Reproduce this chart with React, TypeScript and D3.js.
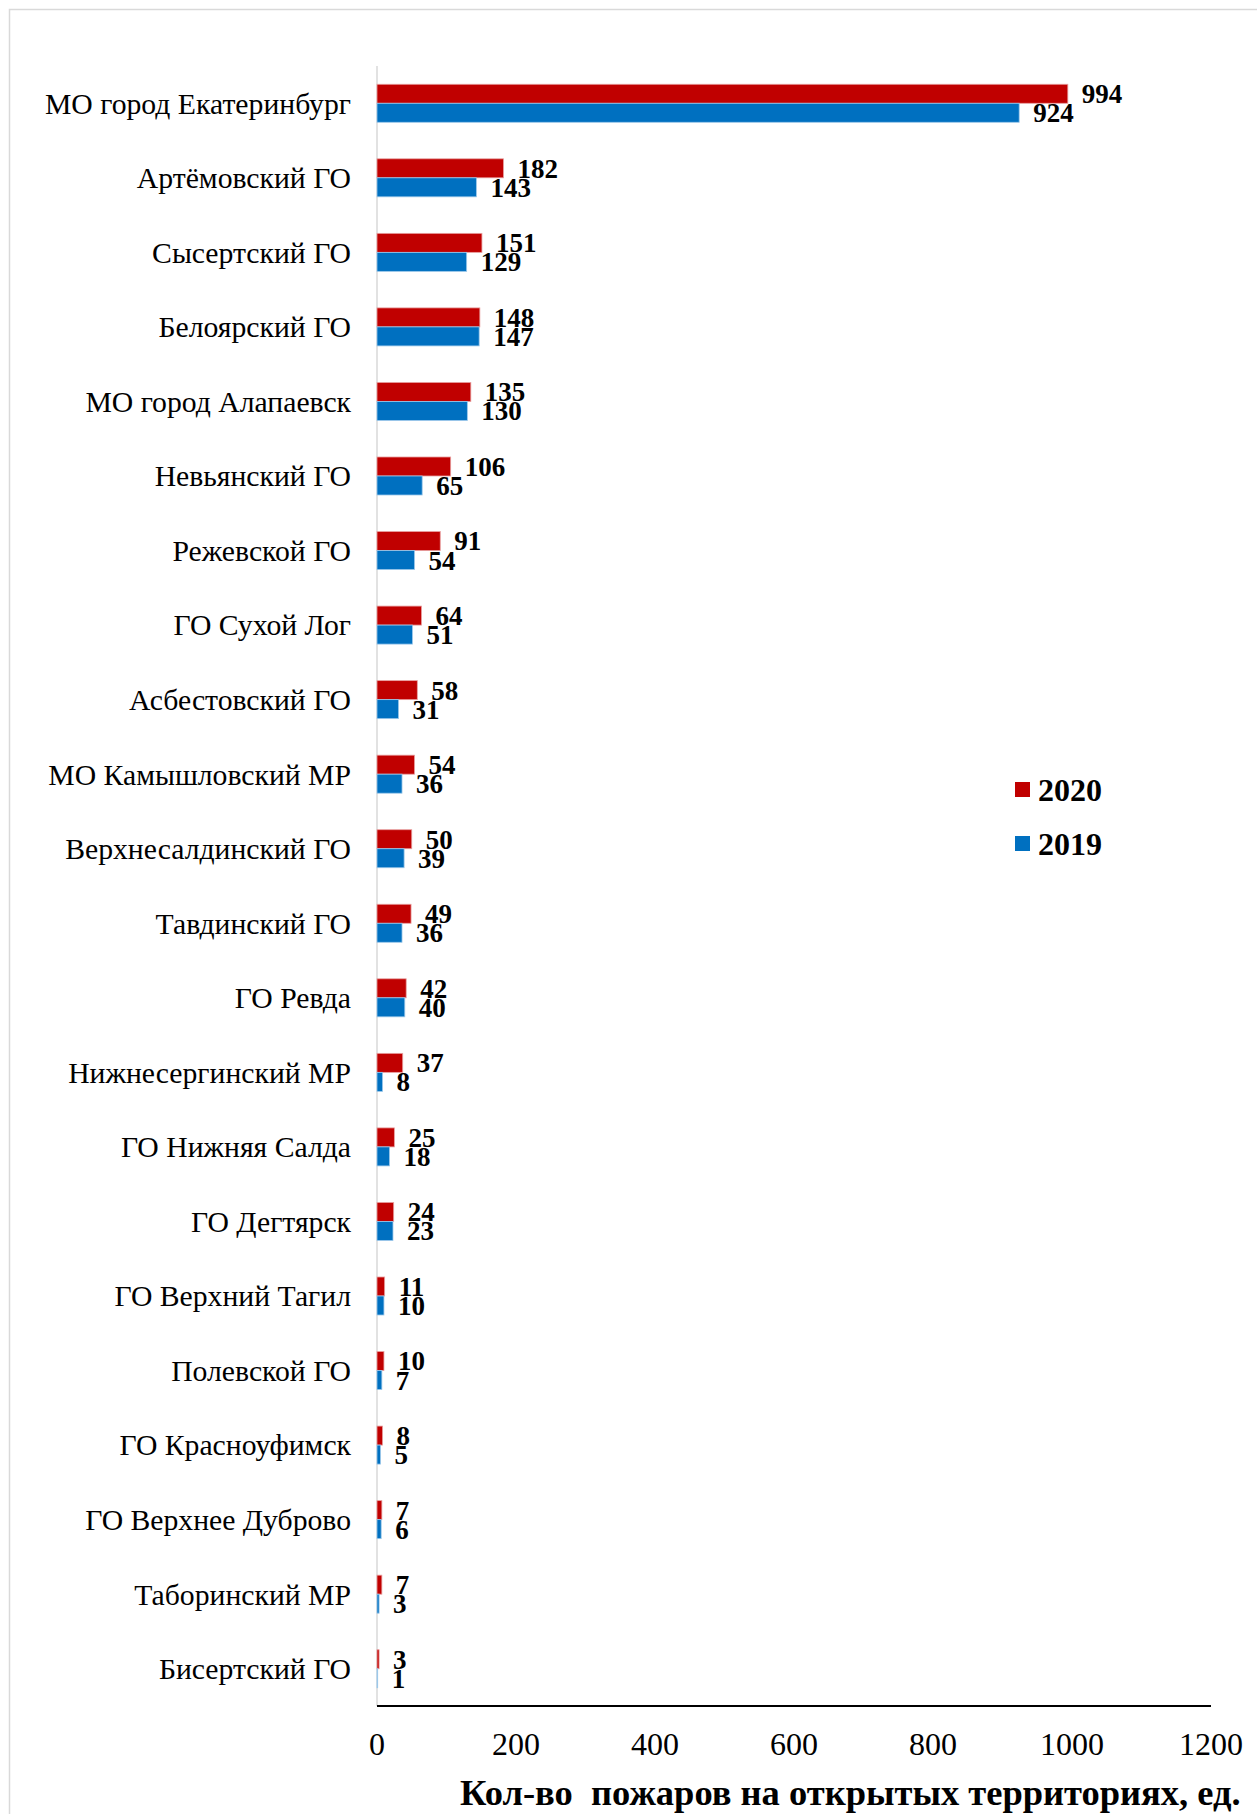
import React from "react";
import * as d3 from "d3";

const categories = [
  "МО город Екатеринбург",
  "Артёмовский ГО",
  "Сысертский ГО",
  "Белоярский ГО",
  "МО город Алапаевск",
  "Невьянский ГО",
  "Режевской ГО",
  "ГО Сухой Лог",
  "Асбестовский ГО",
  "МО Камышловский МР",
  "Верхнесалдинский ГО",
  "Тавдинский ГО",
  "ГО Ревда",
  "Нижнесергинский МР",
  "ГО Нижняя Салда",
  "ГО Дегтярск",
  "ГО Верхний Тагил",
  "Полевской ГО",
  "ГО Красноуфимск",
  "ГО Верхнее Дуброво",
  "Таборинский МР",
  "Бисертский ГО",
];
const values2020 = [994, 182, 151, 148, 135, 106, 91, 64, 58, 54, 50, 49, 42, 37, 25, 24, 11, 10, 8, 7, 7, 3];
const values2019 = [924, 143, 129, 147, 130, 65, 54, 51, 31, 36, 39, 36, 40, 8, 18, 23, 10, 7, 5, 6, 3, 1];
const xTicks = [0, 200, 400, 600, 800, 1000, 1200];
const seriesNames = ["2020", "2019"];
const seriesColors = ["#C00000", "#0070C0"];
const axisTitle = "Кол-во  пожаров на открытых территориях, ед.";

const W = 1257;
const H = 1814;
const FONT = "'Liberation Serif', 'Times New Roman', serif";

export default function App() {
  const x = d3.scaleLinear().domain([0, 1200]).range([377, 1211]);
  const y = d3.scaleBand<string>().domain(categories).range([66, 1706]).padding(0);
  const bw = y.bandwidth();
  const barH = bw * 0.255;
  const series = [values2020, values2019];

  return (
    <svg
      width={W}
      height={H}
      style={{ position: "absolute", left: 0, top: 0, background: "#fff" }}
      fontFamily={FONT}
    >
      <rect x={0} y={0} width={W} height={H} fill="#fff" />
      <rect x={9.5} y={9.5} width={W + 50} height={H + 50} fill="none" stroke="#d9d9d9" strokeWidth={1.5} />

      {/* vertical axis */}
      <line x1={x(0)} x2={x(0)} y1={66} y2={1706} stroke="#d9d9d9" strokeWidth={1.5} />

      {categories.map((c, i) => {
        const cy = (y(c) as number) + bw / 2;
        return (
          <g key={c}>
            <text x={351} y={cy} dy="0.35em" textAnchor="end" fontSize={29.7} fill="#000">
              {c}
            </text>
            {series.map((vals, s) => {
              const top = cy - barH + s * barH;
              return (
                <g key={s}>
                  <rect
                    x={x(0)}
                    y={top}
                    width={x(vals[i]) - x(0)}
                    height={barH}
                    fill={seriesColors[s]}
                    stroke={s === 0 ? "#e8a0a0" : "#9cc8ea"}
                    strokeWidth={0.8}
                  />
                  <text
                    x={x(vals[i]) + 14}
                    y={top + barH / 2}
                    dy="0.35em"
                    fontSize={27}
                    fontWeight="bold"
                    fill="#000"
                  >
                    {vals[i]}
                  </text>
                </g>
              );
            })}
          </g>
        );
      })}

      {/* bottom axis */}
      <line x1={x(0)} x2={x(1200)} y1={1706} y2={1706} stroke="#000" strokeWidth={2.2} />
      {xTicks.map((t) => (
        <text key={t} x={x(t)} y={1744} dy="0.35em" textAnchor="middle" fontSize={32} fill="#000">
          {t}
        </text>
      ))}
      <text x={460} y={1792} dy="0.35em" fontSize={36.5} fontWeight="bold" fill="#000" style={{ whiteSpace: "pre" }}>
        {axisTitle}
      </text>

      {/* legend */}
      {seriesNames.map((n, s) => (
        <g key={n} transform={`translate(1015, ${790 + s * 54})`}>
          <rect x={0} y={-8} width={15} height={15} fill={seriesColors[s]} />
          <text x={23} y={0} dy="0.35em" fontSize={32} fontWeight="bold" fill="#000">
            {n}
          </text>
        </g>
      ))}
    </svg>
  );
}
